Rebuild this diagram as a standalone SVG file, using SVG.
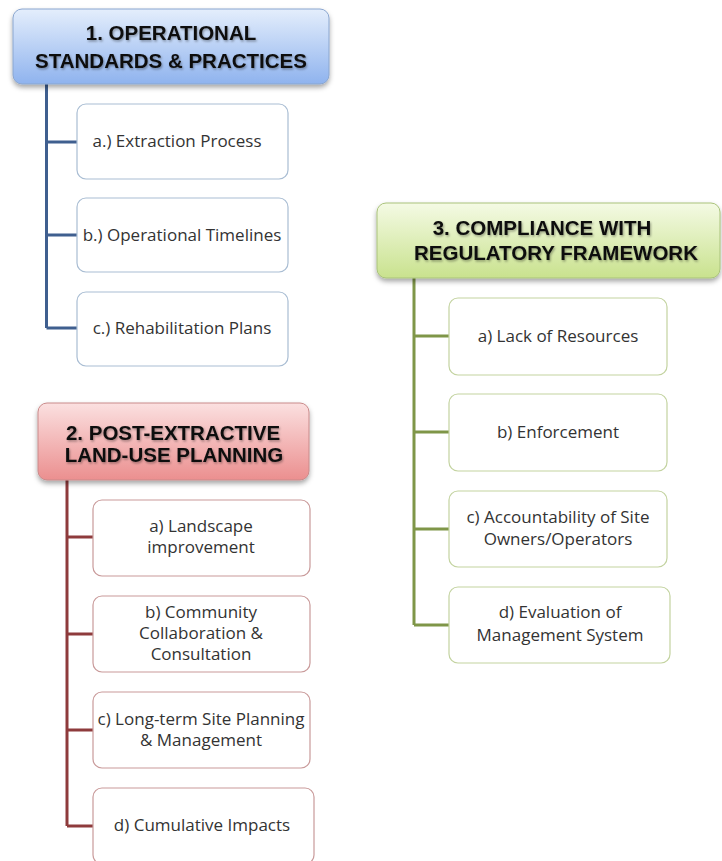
<svg xmlns="http://www.w3.org/2000/svg" width="722" height="861" viewBox="0 0 722 861">
  <defs>
    <linearGradient id="gBlue" x1="0" y1="0" x2="0" y2="1">
      <stop offset="0" stop-color="#e4eefc"/>
      <stop offset="1" stop-color="#8fb3ee"/>
    </linearGradient>
    <linearGradient id="gRed" x1="0" y1="0" x2="0" y2="1">
      <stop offset="0" stop-color="#fbe0e0"/>
      <stop offset="1" stop-color="#eb8f8f"/>
    </linearGradient>
    <linearGradient id="gGreen" x1="0" y1="0" x2="0" y2="1">
      <stop offset="0" stop-color="#f4fae4"/>
      <stop offset="1" stop-color="#c9e28e"/>
    </linearGradient>
    <filter id="shadow" x="-10%" y="-10%" width="120%" height="140%">
      <feDropShadow dx="0" dy="3" stdDeviation="2.5" flood-color="#000" flood-opacity="0.35"/>
    </filter>
    <filter id="tshadow" x="-5%" y="-20%" width="110%" height="150%">
      <feDropShadow dx="1" dy="1.5" stdDeviation="1" flood-color="#000" flood-opacity="0.35"/>
    </filter>
  </defs>
  <style>
    .head { font-family: "Liberation Sans", Arial, sans-serif; font-weight: bold; font-size: 20.5px; fill: #111; text-anchor: middle; }
    .item { font-family: "Open Sans", "Liberation Sans", sans-serif; font-size: 17px; fill: #333; text-anchor: middle; }
    .box { fill: #fff; stroke-width: 1.2; }
    .b1 { stroke: #a9bdd3; }
    .b2 { stroke: #c99a9a; }
    .b3 { stroke: #c3d3a0; }
    .l1 { stroke: #3f5f8f; stroke-width: 3; fill: none; }
    .l2 { stroke: #8e3b3c; stroke-width: 3; fill: none; }
    .l3 { stroke: #7f9648; stroke-width: 3; fill: none; }
  </style>
  <rect width="722" height="861" fill="#fff"/>

  <!-- connectors -->
  <g id="connectors">
    <path class="l1" d="M46.5 84 V328 M46.5 142 H77 M46.5 235 H77 M46.5 328 H77"/>
    <path class="l2" d="M67 480 V826 M67 537 H93 M67 634 H93 M67 730 H93 M67 826 H93"/>
    <path class="l3" d="M414 278 V625 M414 336 H449 M414 432 H449 M414 529 H449 M414 625 H449"/>
  </g>

  <!-- group 1 -->
  <g id="head1">
    <rect x="13" y="9" width="316" height="75" rx="9" fill="url(#gBlue)" stroke="#8aa6cf" stroke-width="1" filter="url(#shadow)"/>
    <g filter="url(#tshadow)">
      <text class="head" x="171" y="40">1. OPERATIONAL</text>
      <text class="head" x="171" y="68">STANDARDS &amp; PRACTICES</text>
    </g>
  </g>
  <g id="item1a">
    <rect class="box b1" x="77" y="104" width="211" height="75" rx="9"/>
    <text class="item" x="177" y="147">a.) Extraction Process</text>
  </g>
  <g id="item1b">
    <rect class="box b1" x="77" y="198" width="211" height="74" rx="9"/>
    <text class="item" x="182" y="241">b.) Operational Timelines</text>
  </g>
  <g id="item1c">
    <rect class="box b1" x="77" y="292" width="211" height="74" rx="9"/>
    <text class="item" x="182" y="334">c.) Rehabilitation Plans</text>
  </g>

  <!-- group 2 -->
  <g id="head2">
    <rect x="38" y="403" width="271" height="77" rx="9" fill="url(#gRed)" stroke="#c98a8a" stroke-width="1" filter="url(#shadow)"/>
    <g filter="url(#tshadow)">
      <text class="head" x="173" y="440">2. POST-EXTRACTIVE</text>
      <text class="head" x="174" y="462">LAND-USE PLANNING</text>
    </g>
  </g>
  <g id="item2a">
    <rect class="box b2" x="93" y="500" width="217" height="76" rx="9"/>
    <text class="item" x="201" y="532">a) Landscape</text>
    <text class="item" x="201" y="553">improvement</text>
  </g>
  <g id="item2b">
    <rect class="box b2" x="93" y="596" width="217" height="76" rx="9"/>
    <text class="item" x="201" y="618">b) Community</text>
    <text class="item" x="201" y="639">Collaboration &amp;</text>
    <text class="item" x="201" y="660">Consultation</text>
  </g>
  <g id="item2c">
    <rect class="box b2" x="93" y="692" width="217" height="76" rx="9"/>
    <text class="item" x="201" y="725">c) Long-term Site Planning</text>
    <text class="item" x="201" y="746">&amp; Management</text>
  </g>
  <g id="item2d">
    <rect class="box b2" x="93" y="788" width="221" height="76" rx="9"/>
    <text class="item" x="202" y="831">d) Cumulative Impacts</text>
  </g>

  <!-- group 3 -->
  <g id="head3">
    <rect x="377" y="203" width="343" height="75" rx="9" fill="url(#gGreen)" stroke="#a9c27a" stroke-width="1" filter="url(#shadow)"/>
    <g filter="url(#tshadow)">
      <text class="head" x="542" y="235">3. COMPLIANCE WITH</text>
      <text class="head" x="556" y="260">REGULATORY FRAMEWORK</text>
    </g>
  </g>
  <g id="item3a">
    <rect class="box b3" x="449" y="298" width="218" height="77" rx="9"/>
    <text class="item" x="558" y="342">a)  Lack of Resources</text>
  </g>
  <g id="item3b">
    <rect class="box b3" x="449" y="394" width="218" height="77" rx="9"/>
    <text class="item" x="558" y="438">b) Enforcement</text>
  </g>
  <g id="item3c">
    <rect class="box b3" x="449" y="491" width="218" height="76" rx="9"/>
    <text class="item" x="558" y="523">c) Accountability of Site</text>
    <text class="item" x="558" y="545">Owners/Operators</text>
  </g>
  <g id="item3d">
    <rect class="box b3" x="449" y="587" width="221" height="76" rx="9"/>
    <text class="item" x="560" y="618">d) Evaluation of</text>
    <text class="item" x="560" y="641">Management System</text>
  </g>
</svg>
